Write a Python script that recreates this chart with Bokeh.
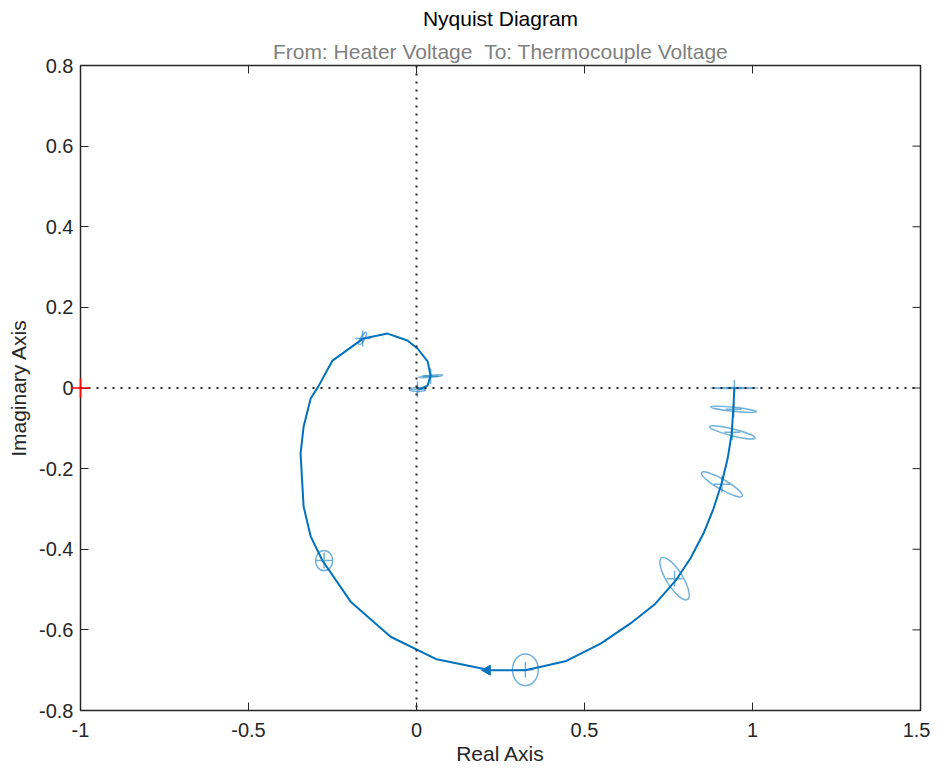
import numpy as np
from bokeh.plotting import figure
from bokeh.models import Span, Title, FixedTicker, Range1d, CustomJSTickFormatter, ColumnDataSource
from bokeh.embed import file_html
from bokeh.resources import INLINE

# ---- data ----
curve_re = [0.946, 0.943, 0.938, 0.926, 0.908, 0.884, 0.854, 0.815, 0.771, 0.711, 0.637, 0.548,
            0.443, 0.324, 0.220, 0.060, -0.077, -0.196, -0.280, -0.315, -0.336, -0.345, -0.336,
            -0.315, -0.292, -0.250, -0.158, -0.086, -0.027, 0.003, 0.033, 0.042, 0.033, 0.006]
curve_im = [0.000, -0.051, -0.113, -0.175, -0.237, -0.299, -0.361, -0.423, -0.478, -0.535, -0.584, -0.634,
            -0.678, -0.700, -0.700, -0.673, -0.617, -0.530, -0.428, -0.368, -0.294, -0.163, -0.096,
            -0.026, 0.004, 0.068, 0.123, 0.135, 0.118, 0.098, 0.066, 0.031, 0.006, -0.004]

arrow_re = [0.211]
arrow_im = [-0.700]

conf_re = [0.946, 0.944, 0.940, 0.909, 0.768, 0.324, -0.275, -0.160, 0.042, 0.003]
conf_im = [0.000, -0.053, -0.110, -0.239, -0.473, -0.699, -0.428, 0.123, 0.029, -0.004]
conf_w = [0.143, 0.137, 0.140, 0.140, 0.146, 0.077, 0.051, 0.042, 0.071, 0.048]
conf_h = [0.0025, 0.010, 0.017, 0.025, 0.040, 0.079, 0.050, 0.010, 0.005, 0.010]
conf_angle_deg = [0, -6, -14, -30, -58, 0, 0, 60, 5, 0]

crit_re = [-1.0]
crit_im = [0.0]

x_min, x_max = -1, 1.5
y_min, y_max = -0.8, 0.8
x_ticks = [-1, -0.5, 0, 0.5, 1, 1.5]
x_tick_labels = ["-1", "-0.5", "0", "0.5", "1", "1.5"]
y_ticks = [-0.8, -0.6, -0.4, -0.2, 0, 0.2, 0.4, 0.6, 0.8]
y_tick_labels = ["-0.8", "-0.6", "-0.4", "-0.2", "0", "0.2", "0.4", "0.6", "0.8"]

title_text = "Nyquist Diagram"
subtitle_text = "From: Heater Voltage \u00a0To: Thermocouple Voltage"
x_label = "Real Axis"
y_label = "Imaginary Axis"

# ---- styling ----
FONT = "Liberation Sans"
DARK = "#262626"
BLUE = "#0072BD"
FW, FH = 840, 645
TICK = 8  # px, inward tick length

p = figure(frame_width=FW, frame_height=FH,
           x_range=Range1d(x_min, x_max), y_range=Range1d(y_min, y_max),
           output_backend="svg", toolbar_location=None, title=None,
           min_border_left=80, min_border_right=10, min_border_top=0, min_border_bottom=50)
p.background_fill_color = "white"
p.border_fill_color = "white"
p.outline_line_color = DARK
p.outline_line_width = 1.5
p.grid.visible = False


def fmt(tvals, tlabels):
    return CustomJSTickFormatter(args=dict(tv=tvals, tl=tlabels), code="""
        let best = 0, d = 1e9;
        for (let i = 0; i < tv.length; i++) {
            const dd = Math.abs(tv[i] - tick);
            if (dd < d) { d = dd; best = i; }
        }
        return tl[best];
    """)


for ax, tvals, tlabels, lab in ((p.xaxis[0], x_ticks, x_tick_labels, x_label),
                                (p.yaxis[0], y_ticks, y_tick_labels, y_label)):
    ax.ticker = FixedTicker(ticks=tvals)
    ax.formatter = fmt(tvals, tlabels)
    ax.axis_label = lab
    ax.axis_label_text_font = FONT
    ax.axis_label_text_font_size = "21px"
    ax.axis_label_text_font_style = "normal"
    ax.axis_label_text_color = DARK
    ax.major_label_text_font = FONT
    ax.major_label_text_font_size = "20px"
    ax.major_label_text_color = DARK
    ax.major_tick_in = TICK
    ax.major_tick_out = 0
    ax.major_tick_line_color = DARK
    ax.minor_tick_line_color = None
    ax.axis_line_color = None
p.xaxis.major_label_standoff = 12
p.xaxis.axis_label_standoff = 2
p.yaxis.major_label_standoff = 7
p.yaxis.axis_label_standoff = 6

# inward ticks on the top and right edges of the box
dy_tick = TICK * (y_max - y_min) / FH
dx_tick = TICK * (x_max - x_min) / FW
p.segment(x0=x_ticks, y0=[y_max] * len(x_ticks), x1=x_ticks, y1=[y_max - dy_tick] * len(x_ticks),
          line_color=DARK, line_width=1)
p.segment(x0=[x_max] * len(y_ticks), y0=y_ticks, x1=[x_max - dx_tick] * len(y_ticks), y1=y_ticks,
          line_color=DARK, line_width=1)

p.add_layout(Title(text=subtitle_text, align="center", text_font=FONT, text_font_size="21px",
                   text_font_style="normal", text_color="#808080", standoff=6), "above")
p.add_layout(Title(text=title_text, align="center", text_font=FONT, text_font_size="21px",
                   text_font_style="normal", text_color="#000000", standoff=9), "above")

# dotted axes through the origin
p.add_layout(Span(location=0, dimension="width", line_color=DARK, line_dash="2 6", line_width=2))
p.add_layout(Span(location=0, dimension="height", line_color=DARK, line_dash="2 6", line_width=2))

# curve
p.line(curve_re, curve_im, line_color=BLUE, line_width=2)

# confidence ellipses and their centers
csrc = ColumnDataSource(dict(x=conf_re, y=conf_im, w=conf_w, h=conf_h,
                             a=[np.deg2rad(v) for v in conf_angle_deg]))
p.ellipse(x="x", y="y", width="w", height="h", angle="a", source=csrc,
          fill_color=None, line_color=BLUE, line_alpha=0.55, line_width=1.5)
p.scatter(x="x", y="y", source=csrc, marker="cross", size=16,
          line_color=BLUE, line_alpha=0.55, line_width=1.5)

# direction arrow
p.scatter(arrow_re, arrow_im, marker="triangle", size=10, angle=np.pi / 2,
          fill_color=BLUE, line_color=BLUE)

# critical point (-1, 0), drawn on the overlay level so it may cross the box edge
p.scatter(crit_re, crit_im, marker="cross", size=19, line_color="red", line_width=1.5,
          level="overlay")

open("out.html", "w").write(file_html(p, INLINE))
